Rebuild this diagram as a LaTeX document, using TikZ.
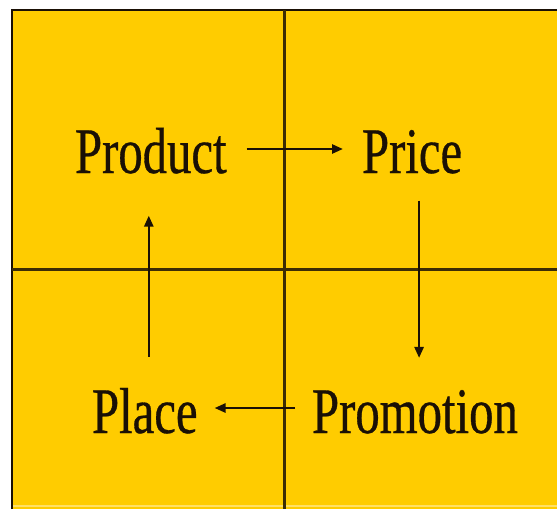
\documentclass[tikz,border=0pt]{standalone}
\usepackage{fontspec}
\newfontfamily\condserif[FakeStretch=0.75,FakeBold=0.5]{Liberation Serif}
\usetikzlibrary{arrows.meta}
\definecolor{bgyellow}{HTML}{FFCC00}
\definecolor{ink}{HTML}{1A1005}
\tikzset{
  word/.style={anchor=base west, inner sep=0pt, outer sep=0pt, text=ink,
    font=\condserif\fontsize{65}{70}\selectfont},
  arr/.style={draw=ink, line width=2.5pt, -{Triangle[length=11pt,width=9pt]}},
  divider/.style={draw=ink!85!bgyellow, line width=3pt},
}
\begin{document}
\begin{tikzpicture}[x=1pt,y=-1pt]
\useasboundingbox (0,0) rectangle (557,509);
\fill[white] (0,0) rectangle (557,509);
\fill[bgyellow] (11,10) rectangle (557,509);
\draw[ink, line width=2pt] (12,509) -- (12,10) -- (557,10);
\draw[bgyellow!60!white, line width=2pt] (13,506) -- (557,506);
% dividers
\draw[divider] (284,10) -- (284,509);
\draw[divider] (12,269) -- (557,269);
% words
\node[word] (Product) at (75,173) {Product};
\node[word] (Price) at (362,173) {Price};
\node[word] (Place) at (92,433) {Place};
\node[word] (Promotion) at (312,433) {Promotion};
% connectors
\draw[arr] ([xshift=20pt,yshift=24pt]Product.base east) -- ([xshift=-19pt,yshift=24pt]Price.base west);
\draw[arr] ([xshift=7pt,yshift=-27pt]Price.south) -- ([xshift=7pt,yshift=32pt]Price.south |- Promotion.north);
\draw[arr] ([xshift=-17pt,yshift=25pt]Promotion.base west) -- ([xshift=17pt,yshift=25pt]Place.base east);
\draw[arr] ([xshift=4pt,yshift=31pt]Place.north) -- ([xshift=4pt,yshift=-42pt]Place.north |- Product.south);
\end{tikzpicture}
\end{document}
